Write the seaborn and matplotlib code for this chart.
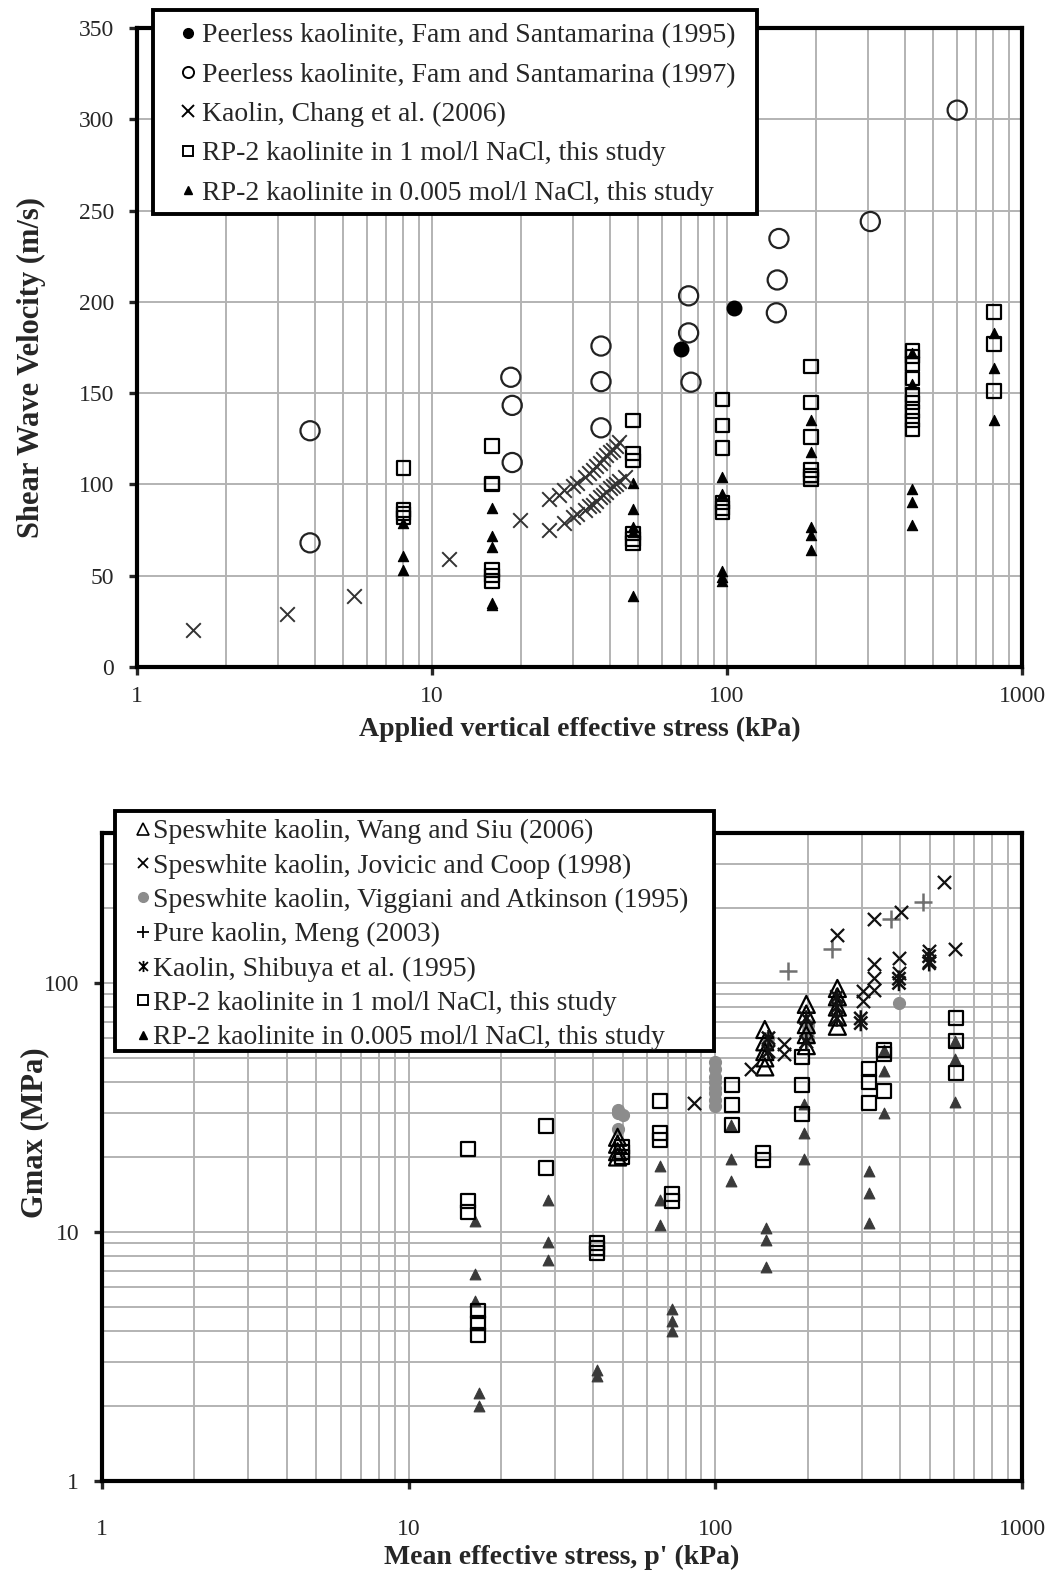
import numpy as np
import pandas as pd
import matplotlib
matplotlib.use("Agg")
import matplotlib.pyplot as plt
import seaborn as sns
from matplotlib.lines import Line2D
from matplotlib.path import Path
from matplotlib.patches import Rectangle
from matplotlib.ticker import LogLocator, NullFormatter

# ---------------- Top panel: shear wave velocity vs vertical stress ----------------
fam95_x = [69.8, 105.6]
fam95_y = [174, 196.6]

fam97_x = [3.86, 3.86, 18.5, 18.7, 18.7, 37.4, 37.4, 37.4, 74.1, 74.1, 75.5,
           150, 148, 147, 306, 603]
fam97_y = [129.4, 68, 158.7, 143.3, 112, 175.8, 156.3, 131, 203.3, 183, 156,
           234.7, 212, 194, 244, 305]

chang_x = [1.55, 3.23, 5.45, 11.4, 19.8,
           25, 27, 28, 30, 31, 33, 34, 35, 36, 37, 38, 39, 40, 41, 42, 43,
           25, 28, 30, 31, 33, 34, 35, 36, 37, 38, 39, 40, 41, 42, 43, 45]
chang_y = [20.3, 28.9, 38.9, 59, 80.5,
           92, 94, 97, 99, 101, 104, 106, 108, 110, 112, 114, 116, 118, 119, 121, 123,
           75, 79, 82, 84, 86, 88, 89, 91, 93, 94, 96, 98, 99, 100, 102, 104]

rp1_top_x = [8, 8, 8, 8, 16, 16, 16, 16, 16, 16, 48, 48, 48, 48, 48, 48,
             96.5, 96.5, 96.5, 96.5, 96.5, 96.5, 193, 193, 193, 193, 193, 193,
             425, 425, 425, 425, 425, 425, 425, 425, 425, 804, 804, 804]
rp1_top_y = [109, 86, 84, 82, 121, 100.6, 100, 53, 50, 47, 135, 117, 113, 73, 70, 68,
             146.6, 132.3, 120, 90, 87, 85, 164.5, 145, 126, 108, 105, 103,
             173, 170, 166, 158, 149, 145, 140, 135, 130, 194.3, 177, 151.3]

rp005_top_x = [8, 8, 8, 16, 16, 16, 16, 16, 48, 48, 48, 48, 48,
               96.5, 96.5, 96.5, 96.5, 96.5, 193, 193, 193, 193, 193,
               425, 425, 425, 425, 425, 804, 804, 804]
rp005_top_y = [79, 61, 53, 87, 72, 66, 35, 34, 101, 86.5, 76.6, 74, 39,
               104, 94.5, 52.5, 49.5, 47, 135.5, 117.7, 76.7, 72.4, 64,
               172, 155, 97.6, 90.3, 77.8, 182.7, 163.9, 135.5]

top_labels = ["Peerless kaolinite, Fam and Santamarina (1995)",
              "Peerless kaolinite, Fam and Santamarina (1997)",
              "Kaolin, Chang et al. (2006)",
              "RP-2 kaolinite in 1 mol/l NaCl, this study",
              "RP-2 kaolinite in 0.005 mol/l NaCl, this study"]
top_yticks = [0, 50, 100, 150, 200, 250, 300, 350]
log_ticks = [1, 10, 100, 1000]

# ---------------- Bottom panel: Gmax vs mean effective stress ----------------
wang_x = [48, 48, 48, 48, 145, 145, 145, 145, 145, 198, 198, 198, 198, 198,
          250, 250, 250, 250, 250]
wang_y = [24, 22.5, 21, 20, 65, 58, 53, 50, 46, 82, 75, 68, 62, 56,
          95, 88, 80, 73, 67]

jovicic_x = [85, 131, 168, 168, 249, 328, 402, 557, 604, 498, 498, 328, 328, 328,
             397, 397, 302, 302]
jovicic_y = [33, 45, 57, 52, 156, 180, 193, 255, 137, 134, 123, 119, 105, 94,
             126, 110, 93, 85]

viggiani_x = [48, 48, 48, 50, 100, 100, 100, 100, 100, 100, 100, 100,
              148, 148, 200, 200, 200, 396]
viggiani_y = [31, 30, 26, 29.5, 48, 45, 42, 40, 38, 36, 34, 32,
              60, 57, 68, 64, 60, 83]

meng_x = [173, 240, 373, 477]
meng_y = [112, 137, 180, 212]

shibuya_x = [149, 149, 198, 198, 249, 249, 249, 298, 298, 397, 397, 498, 498]
shibuya_y = [53, 60, 72, 58, 88, 80, 72, 69, 72, 104, 100, 120, 128]

rp1_bot_x = [15.6, 15.6, 15.6, 16.8, 16.8, 16.8, 28.1, 28.1, 41, 41, 41,
             49.5, 49.5, 49.5, 66.2, 66.2, 66.2, 72, 72, 113, 113, 113, 143, 143,
             192, 192, 192, 316, 316, 316, 355, 355, 355, 608, 608, 608]
rp1_bot_y = [21.5, 13.3, 12.0, 4.8, 4.3, 3.85, 26.7, 18.1, 9.0, 8.6, 8.2,
             22, 21, 20, 33.6, 25, 23.5, 14.2, 13.3, 38.8, 32.3, 26.9, 20.8, 19.5,
             50.4, 38.8, 29.7, 45, 40, 33, 54, 52, 36.8, 72.5, 58.5, 43.6]

rp005_bot_x = [16.4, 16.4, 16.4, 16.9, 16.9, 28.5, 28.5, 28.5, 41, 41,
               66, 66, 66, 72, 72, 72, 112.5, 112.5, 112.5, 146, 146, 146,
               195, 195, 195, 316, 316, 316, 355, 355, 355, 604, 604, 604]
rp005_bot_y = [11.1, 6.8, 5.3, 2.25, 2.0, 13.5, 9.1, 7.7, 2.8, 2.65,
               18.4, 13.5, 10.7, 4.9, 4.4, 4.0, 26.9, 19.6, 16.0, 10.4, 9.3, 7.2,
               32.6, 25, 19.6, 17.6, 14.4, 10.9, 54, 44.3, 30.1, 58.5, 49.4, 33.3]

bot_labels = ["Speswhite kaolin, Wang and Siu (2006)",
              "Speswhite kaolin, Jovicic and Coop (1998)",
              "Speswhite kaolin, Viggiani and Atkinson (1995)",
              "Pure kaolin, Meng (2003)",
              "Kaolin, Shibuya et al. (1995)",
              "RP-2 kaolinite in 1 mol/l NaCl, this study",
              "RP-2 kaolinite in 0.005 mol/l NaCl, this study"]
bot_yticks = [1, 10, 100]

# ---------------- styling ----------------
sns.set_style("white")
plt.rcParams["font.family"] = ["Liberation Serif", "DejaVu Serif"]

# Excel-style "star" marker: an X crossed by a vertical bar
star_path = Path([(-1, -1), (1, 1), (-1, 1), (1, -1), (0, -1.25), (0, 1.25)],
                 [Path.MOVETO, Path.LINETO, Path.MOVETO, Path.LINETO,
                  Path.MOVETO, Path.LINETO])

W, H = 1052, 1572
fig = plt.figure(figsize=(W / 100, H / 100), dpi=100)
ax1 = fig.add_axes([137 / W, 1 - 667 / H, (1022 - 137) / W, (667 - 28) / H])
ax2 = fig.add_axes([102 / W, 1 - 1481 / H, (1022 - 102) / W, (1481 - 833) / H])

GRID = "#b3b3b3"
TRI = "#3a3a3a"
TICK_FS = 17
LABEL_FS = 20
LEG_FS = 20


def scatter(ax, x, y, marker, s, face, edge, lw, z=3):
    sns.scatterplot(x=x, y=y, ax=ax, marker=marker, s=s, color=edge,
                    edgecolor=edge, linewidth=lw, legend=False, zorder=z)
    coll = ax.collections[-1]
    coll.set_facecolor(face)
    coll.set_edgecolor(edge)
    coll.set_linewidth(lw)


def frame(ax, xpad):
    for sp in ax.spines.values():
        sp.set_visible(True)
        sp.set_color("black")
        sp.set_linewidth(3)
    ax.set_xscale("log")
    ax.xaxis.set_minor_locator(LogLocator(base=10, subs=np.arange(2, 10)))
    ax.xaxis.set_minor_formatter(NullFormatter())
    ax.set_xlim(1, 1000)
    ax.set_xticks(log_ticks)
    ax.set_xticklabels([str(v) for v in log_ticks])
    ax.grid(True, which="both", color=GRID, linewidth=1.4)
    ax.set_axisbelow(True)
    ax.tick_params(which="major", direction="out", length=5.5, width=2.4,
                   labelsize=TICK_FS, bottom=True, left=True, top=False, right=False)
    ax.tick_params(axis="y", which="major", pad=11)
    ax.tick_params(axis="x", which="major", pad=xpad)
    ax.tick_params(which="minor", length=0)


def legend_box(x0, y0, x1, y1):
    # white framed panel behind a legend, in pixel coordinates from top-left
    box = Rectangle((x0 / W, 1 - y1 / H), (x1 - x0) / W, (y1 - y0) / H,
                    transform=fig.transFigure, facecolor="white",
                    edgecolor="black", linewidth=2.8, zorder=4)
    fig.add_artist(box)


# ---- top panel ----
frame(ax1, xpad=8)
ax1.set_ylim(0, 350)
ax1.set_yticks(top_yticks)
scatter(ax1, rp1_top_x, rp1_top_y, "s", 95, "none", "black", 1.6)
scatter(ax1, rp005_top_x, rp005_top_y, "^", 55, "black", "black", 0.8)
scatter(ax1, chang_x, chang_y, "x", 110, "#333333", "#333333", 1.4)
scatter(ax1, fam97_x, fam97_y, "o", 190, "none", "#222222", 1.6)
scatter(ax1, fam95_x, fam95_y, "o", 110, "black", "black", 1.0)
ax1.set_xlabel("Applied vertical effective stress (kPa)", fontsize=LABEL_FS,
               fontweight="bold", va="center")
ax1.xaxis.set_label_coords(0.5, -(729 - 667) / 639)
ax1.set_ylabel("Shear Wave Velocity (m/s)", fontsize=22, fontweight="bold",
               va="center")
ax1.yaxis.set_label_coords((31 - 137) / 885, (667 - 368) / 639)

legend_box(153, 10, 757, 214)
top_handles = [
    Line2D([], [], ls="none", marker="o", ms=7, mfc="black", mec="black"),
    Line2D([], [], ls="none", marker="o", ms=8, mfc="none", mec="black", mew=1.4),
    Line2D([], [], ls="none", marker="x", ms=8, color="black", mew=1.4),
    Line2D([], [], ls="none", marker="s", ms=7, mfc="none", mec="black", mew=1.4),
    Line2D([], [], ls="none", marker="^", ms=6, mfc="black", mec="black"),
]
fig.legend(top_handles, top_labels, loc="upper left",
           bbox_to_anchor=(179.5 / W, 1 - 23 / H), bbox_transform=fig.transFigure,
           fontsize=LEG_FS, frameon=False, handlelength=0.6, handletextpad=0.2,
           labelspacing=0.5, borderpad=0, borderaxespad=0)

# ---- bottom panel ----
frame(ax2, xpad=22)
ax2.set_yscale("log")
ax2.set_ylim(1, 400)
ax2.yaxis.set_minor_locator(LogLocator(base=10, subs=np.arange(2, 10)))
ax2.yaxis.set_minor_formatter(NullFormatter())
ax2.set_yticks(bot_yticks)
ax2.set_yticklabels([str(v) for v in bot_yticks])
ax2.tick_params(which="minor", length=0)

scatter(ax2, rp005_bot_x, rp005_bot_y, "^", 60, TRI, TRI, 0.8)
scatter(ax2, rp1_bot_x, rp1_bot_y, "s", 100, "none", "black", 1.6)
scatter(ax2, viggiani_x, viggiani_y, "o", 75, "#8c8c8c", "#8c8c8c", 0.8)
scatter(ax2, wang_x, wang_y, "^", 150, "none", "black", 1.6)
scatter(ax2, meng_x, meng_y, "+", 150, "#707070", "#707070", 1.8)
scatter(ax2, jovicic_x, jovicic_y, "x", 90, "#111111", "#111111", 1.6)
scatter(ax2, shibuya_x, shibuya_y, star_path, 140, "none", "#111111", 1.8)
ax2.set_xlabel("Mean effective stress, p' (kPa)", fontsize=LABEL_FS,
               fontweight="bold", va="center")
ax2.xaxis.set_label_coords(0.5, -(1557 - 1481) / 648)
ax2.set_ylabel("Gmax (MPa)", fontsize=22, fontweight="bold", va="center")
ax2.yaxis.set_label_coords((35 - 102) / 920, (1481 - 1133) / 648)

legend_box(115, 810.5, 714, 1051)
bot_handles = [
    Line2D([], [], ls="none", marker="^", ms=8, mfc="none", mec="black", mew=1.2),
    Line2D([], [], ls="none", marker="x", ms=7, color="black", mew=1.3),
    Line2D([], [], ls="none", marker="o", ms=7, mfc="#8c8c8c", mec="#8c8c8c"),
    Line2D([], [], ls="none", marker="+", ms=9, color="black", mew=1.3),
    Line2D([], [], ls="none", marker=star_path, ms=8, mfc="none", color="black", mew=1.3),
    Line2D([], [], ls="none", marker="s", ms=7, mfc="none", mec="black", mew=1.4),
    Line2D([], [], ls="none", marker="^", ms=6, mfc="black", mec="black"),
]
fig.legend(bot_handles, bot_labels, loc="upper left",
           bbox_to_anchor=(135 / W, 1 - 819 / H), bbox_transform=fig.transFigure,
           fontsize=LEG_FS, frameon=False, handlelength=0.6, handletextpad=0.05,
           labelspacing=0.32, borderpad=0, borderaxespad=0)

fig.savefig("out.png", dpi=100, facecolor="white")
